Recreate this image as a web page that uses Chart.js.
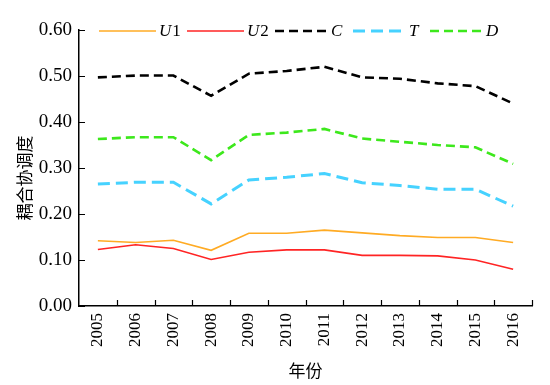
<!DOCTYPE html>
<html>
<head>
<meta charset="utf-8">
<script src="https://cdn.jsdelivr.net/npm/chart.js@4.4.0/dist/chart.umd.min.js"></script>
<style>
    html, body { margin: 0; padding: 0; background: #fff; }
</style>
</head>
<body>
<canvas id="chart" width="550" height="385"></canvas>
<script>
var years = ["2005", "2006", "2007", "2008", "2009", "2010", "2011", "2012", "2013", "2014", "2015", "2016"];
var valU1 = [0.142, 0.138, 0.143, 0.121, 0.158, 0.158, 0.165, 0.159, 0.153, 0.149, 0.149, 0.138];
var valU2 = [0.123, 0.133, 0.125, 0.101, 0.117, 0.122, 0.122, 0.110, 0.110, 0.109, 0.100, 0.080];
var valC = [0.497, 0.501, 0.501, 0.457, 0.505, 0.511, 0.520, 0.497, 0.494, 0.484, 0.478, 0.440];
var valT = [0.265, 0.269, 0.269, 0.222, 0.274, 0.280, 0.288, 0.268, 0.262, 0.254, 0.254, 0.217];
var valD = [0.363, 0.367, 0.367, 0.317, 0.372, 0.377, 0.385, 0.364, 0.357, 0.350, 0.345, 0.309];
var yTicks = [0, 0.1, 0.2, 0.3, 0.4, 0.5, 0.6];

var serif = "'Liberation Serif', 'Times New Roman', serif";
var cjk = "'Noto Sans CJK SC', sans-serif";

function line(label, data, color, width, dash) {
    return {
        label: label,
        data: data,
        borderColor: color,
        backgroundColor: color,
        borderWidth: width,
        borderDash: dash,
        pointRadius: 0,
        tension: 0,
        fill: false
    };
}

// legend: line sample, then italic letter + upright digit
var legendStarts = [99, 187, 275, 353, 430];
var legendPlugin = {
    id: "legendLine",
    afterDraw: function (chart) {
        var ctx = chart.ctx;
        var y = 31;
        ctx.save();
        chart.data.datasets.forEach(function (ds, i) {
            var x = legendStarts[i];
            var len = i < 2 ? 57 : 53;
            ctx.beginPath();
            ctx.strokeStyle = ds.borderColor;
            ctx.lineWidth = ds.borderWidth;
            ctx.setLineDash(ds.borderDash || []);
            ctx.moveTo(x, y);
            ctx.lineTo(x + len, y);
            ctx.stroke();
            ctx.setLineDash([]);
            x += len + 3;
            ctx.fillStyle = "#000";
            ctx.textBaseline = "middle";
            ctx.textAlign = "left";
            ctx.font = "italic 17px " + serif;
            var head = ds.label.charAt(0);
            ctx.fillText(head, x, y + 1);
            x += ctx.measureText(head).width + 1;
            var rest = ds.label.slice(1);
            if (rest) {
                ctx.font = "17px " + serif;
                ctx.fillText(rest, x, y + 1);
            }
        });
        ctx.restore();
    }
};

// tick marks pointing into the plot
var innerTicks = {
    id: "innerTicks",
    afterDraw: function (chart) {
        var ctx = chart.ctx;
        var xs = chart.scales.x, ys = chart.scales.y;
        var area = chart.chartArea;
        var half = (xs.getPixelForTick(1) - xs.getPixelForTick(0)) / 2;
        ctx.save();
        ctx.strokeStyle = "#000";
        ctx.lineWidth = 1.2;
        ctx.beginPath();
        yTicks.forEach(function (v) {
            var py = Math.round(ys.getPixelForValue(v)) + 0.5;
            ctx.moveTo(area.left, py);
            ctx.lineTo(area.left + 6, py);
        });
        years.forEach(function (y, i) {
            var px = Math.round(xs.getPixelForTick(i) + half) + 0.5;
            ctx.moveTo(px, area.bottom);
            ctx.lineTo(px, area.bottom - 6);
        });
        ctx.stroke();
        ctx.restore();
    }
};

// y title drawn by hand, a bit below the axis middle as in the source
var yTitle = {
    id: "yTitle",
    afterDraw: function (chart) {
        var ctx = chart.ctx;
        ctx.save();
        ctx.translate(25, 178);
        ctx.rotate(-Math.PI / 2);
        ctx.fillStyle = "#000";
        ctx.font = "17px " + cjk;
        ctx.textAlign = "center";
        ctx.textBaseline = "middle";
        ctx.fillText("耦合协调度", 0, 0);
        ctx.restore();
    }
};

new Chart(document.getElementById("chart"), {
    type: "line",
    data: {
        labels: years,
        datasets: [
            line("U1", valU1, "#ffab24", 1.6, []),
            line("U2", valU2, "#ff2424", 1.6, []),
            line("C", valC, "#000000", 2.6, [9, 5]),
            line("T", valT, "#46d2ff", 3, [12, 6]),
            line("D", valD, "#3de81c", 2.6, [9, 5])
        ]
    },
    options: {
        responsive: false,
        animation: false,
        layout: { padding: { top: 30, right: 18, left: 0, bottom: 0 } },
        plugins: {
            legend: { display: false },
            tooltip: { enabled: false }
        },
        scales: {
            x: {
                offset: true,
                afterFit: function (s) { s.height = 79; },
                grid: { display: true, drawOnChartArea: false, drawTicks: false },
                border: { display: true, color: "#000", width: 1.5 },
                ticks: {
                    color: "#000",
                    font: { family: serif, size: 17 },
                    minRotation: 90,
                    maxRotation: 90,
                    autoSkip: false,
                    padding: 7
                },
                title: {
                    display: true,
                    text: "年份",
                    color: "#000",
                    font: { family: cjk, size: 17 },
                    padding: { top: 0, bottom: 4 }
                }
            },
            y: {
                min: 0,
                max: 0.6,
                afterFit: function (s) { s.width = 79; },
                afterBuildTicks: function (s) {
                    s.ticks = yTicks.map(function (v) { return { value: v }; });
                },
                grid: { display: true, drawOnChartArea: false, drawTicks: false },
                border: { display: true, color: "#000", width: 1.5 },
                ticks: {
                    color: "#000",
                    font: { family: serif, size: 19 },
                    padding: 7,
                    callback: function (v) { return Number(v).toFixed(2); }
                }
            }
        }
    },
    plugins: [legendPlugin, innerTicks, yTitle]
});
</script>
</body>
</html>
